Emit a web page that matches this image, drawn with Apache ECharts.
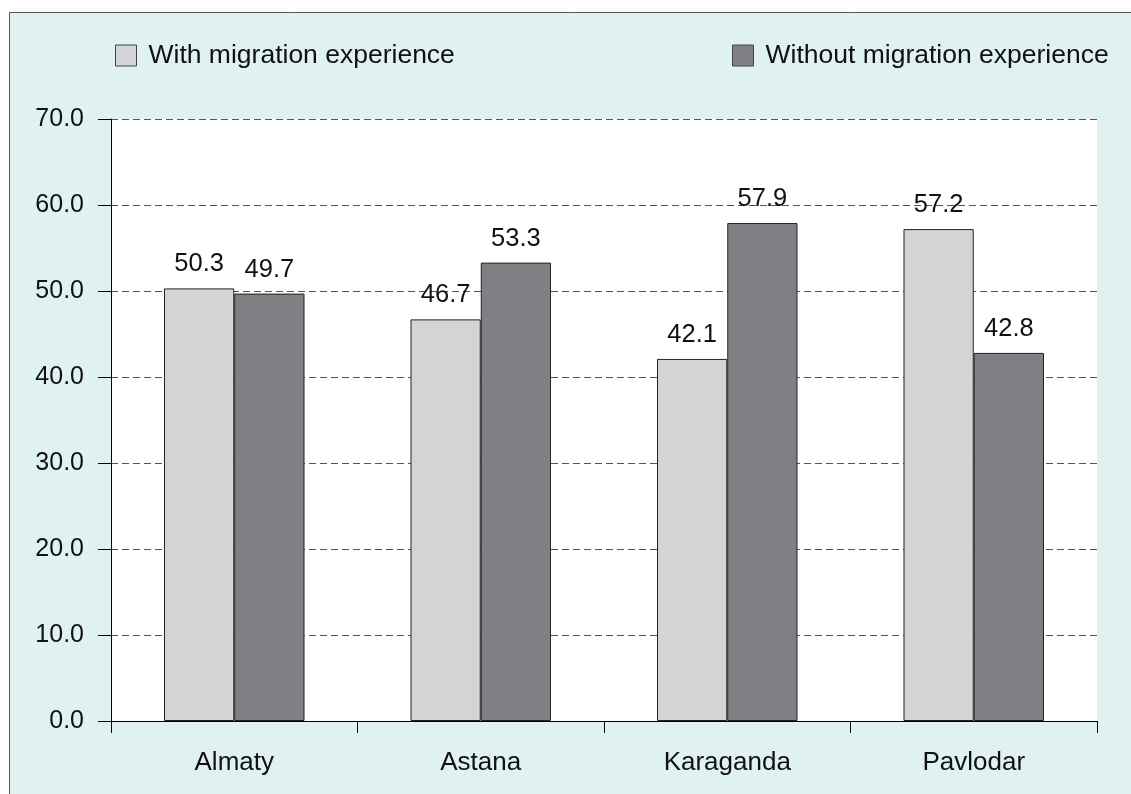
<!DOCTYPE html>
<html><head><meta charset="utf-8">
<script src="https://cdn.jsdelivr.net/npm/echarts@6/dist/echarts.min.js"></script>
<style>html,body{margin:0;padding:0;background:#fff}#c{width:1131px;height:794px}</style>
</head><body><div id="c"></div>
<script>
const categories = ['Almaty', 'Astana', 'Karaganda', 'Pavlodar'];
const withMigration = [50.3, 46.7, 42.1, 57.2];
const withoutMigration = [49.7, 53.3, 57.9, 42.8];
const seriesNames = ['With migration experience', 'Without migration experience'];

const chart = echarts.init(document.getElementById('c'));
const font = 'Liberation Sans, Arial, sans-serif';
const label = { show: true, position: 'top', distance: 11, fontSize: 25.5, color: '#111', fontFamily: font,
  formatter: p => p.value.toFixed(1) };
const legendText = { fontSize: 26.5, color: '#111', fontFamily: font, padding: [0, 0, 0, 7] };
chart.setOption({
  animation: false,
  graphic: [{ type: 'rect', z: -10, shape: { x: 9.5, y: 12.5, width: 1130, height: 800 },
    style: { fill: '#e0f1f1', stroke: '#555', lineWidth: 1 } }],
  legend: [
    { data: [seriesNames[0]], left: 110, top: 37, itemWidth: 21, itemHeight: 21,
      textStyle: legendText, icon: 'rect', itemStyle: { borderColor: '#444', borderWidth: 1 } },
    { data: [seriesNames[1]], left: 727, top: 37, itemWidth: 21, itemHeight: 21,
      textStyle: legendText, icon: 'rect', itemStyle: { borderColor: '#444', borderWidth: 1 } }
  ],
  grid: { left: 111, right: 34, top: 119, bottom: 73, show: true, backgroundColor: '#fff', borderWidth: 0 },
  xAxis: { type: 'category', data: categories,
    axisLine: { lineStyle: { color: '#000', width: 1 } },
    axisTick: { show: true, length: 12, lineStyle: { color: '#000' } },
    axisLabel: { fontSize: 26, color: '#111', fontFamily: font, margin: 29 } },
  yAxis: { type: 'value', min: 0, max: 70, interval: 10,
    axisLine: { show: true, lineStyle: { color: '#000' } },
    axisTick: { show: true, length: 13, lineStyle: { color: '#000' } },
    axisLabel: { fontSize: 25, color: '#111', fontFamily: font, margin: 27, formatter: v => v.toFixed(1) },
    splitLine: { lineStyle: { color: '#555', type: [7, 4], width: 1 } } },
  series: [
    { name: seriesNames[0], type: 'bar', data: withMigration, barGap: '0%', barCategoryGap: '43%',
      itemStyle: { color: '#d3d4d6', borderColor: '#222', borderWidth: 1 }, label },
    { name: seriesNames[1], type: 'bar', data: withoutMigration,
      itemStyle: { color: '#808084', borderColor: '#222', borderWidth: 1 }, label }
  ]
});
</script></body></html>
